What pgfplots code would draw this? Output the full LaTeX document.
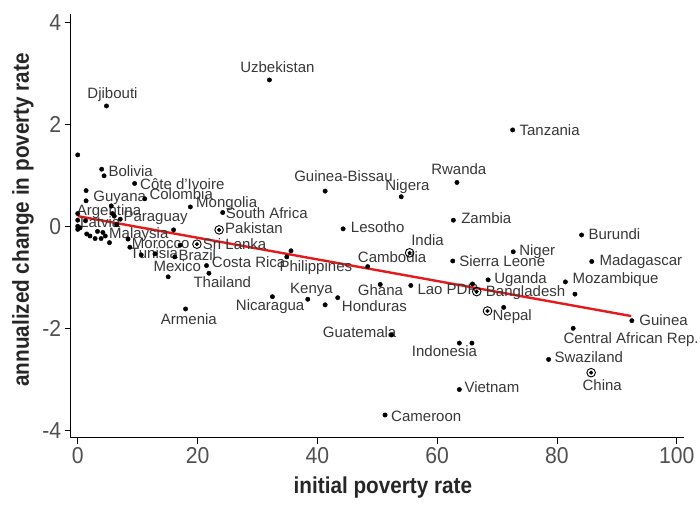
\documentclass[border=0pt]{standalone}
\usepackage{fontspec}
\setmainfont{Liberation Sans}
\newfontfamily\condfont{Liberation Sans}[FakeStretch=0.92]
\newfontfamily\titlefont{Liberation Sans}[FakeStretch=0.9]
\usepackage{pgfplots}
\pgfplotsset{compat=1.18}
\definecolor{fitred}{RGB}{228,26,28}
\definecolor{lblgray}{RGB}{55,55,55}
\definecolor{tickgray}{RGB}{80,80,80}
\tikzset{lbl/.style={font=\fontsize{15}{15}\selectfont, text=lblgray, inner sep=0pt, anchor=base west}}

\begin{document}
\begin{tikzpicture}
\begin{axis}[
  at={(70.7pt,66.3pt)}, anchor=south west,
  scale only axis, width=613.3pt, height=423.7pt,
  xmin=-1.17, xmax=101.2, ymin=-4.145, ymax=4.163,
  axis lines=left, axis line style={-, line width=1.4pt},
  xtick={0,20,40,60,80,100}, ytick={-4,-2,0,2,4},
  tick align=outside, major tick length=6pt,
  tick style={line width=1pt, black},
  /pgf/number format/assume math mode=true,
  ticklabel style={font=\condfont\fontsize{23}{23}\selectfont, text=tickgray},
  xlabel={initial poverty rate},
  ylabel={annualized change in poverty rate},
  label style={font=\titlefont\bfseries\fontsize{23}{23}\selectfont, text=black!85},
  xlabel style={at={(axis description cs:0.509,-0.117)}, anchor=center},
  ylabel style={at={(axis description cs:-0.0778,0.514)}, anchor=center},
  clip=false,
]
% regression line
\addplot[fitred, line width=2.4pt] coordinates {(0,0.20) (92.4,-1.76)};
% countries
\addplot[only marks, mark=*, mark size=2.2pt, black] coordinates {
(0,1.40) (32.0,2.87) (4.8,2.36) (72.6,1.89) (4.0,1.12) (4.4,0.99)
(9.5,0.84) (1.4,0.70) (1.4,0.50) (11.2,0.54) (18.8,0.38) (24.2,0.27)
(0,0.25) (5.6,0.40) (5.8,0.25) (6.1,0.20) (7.1,0.14) (6.5,0.03)
(0,0.12) (0,0.0) (1.3,0.11) (0.4,-0.03) (0,-0.06)
(1.5,-0.15) (2.05,-0.19) (2.9,-0.24) (3.3,-0.10) (3.9,-0.24) (4.2,-0.12) (4.6,-0.19) (5.3,-0.32)
(8.4,-0.25) (16.0,-0.07) (8.7,-0.41) (17.1,-0.37) (10.6,-0.56) (12.9,-0.54)
(16.2,-0.60) (15.1,-0.99) (21.5,-0.77) (21.9,-0.92) (18.0,-1.62) (32.5,-1.38)
(38.4,-1.43) (35.6,-0.48) (34.9,-0.60) (41.3,0.69) (54.0,0.58) (63.3,0.86)
(62.7,0.12) (44.3,-0.05) (48.4,-0.79) (62.6,-0.68) (50.5,-1.14) (55.6,-1.16)
(41.3,-1.54) (43.4,-1.40) (52.4,-2.13) (63.7,-2.29) (65.8,-2.29)
(84.1,-0.17) (72.7,-0.50) (85.8,-0.69) (68.5,-1.05) (81.4,-1.09) (83.0,-1.33)
(65.9,-1.13) (71.1,-1.59) (92.5,-1.85) (82.7,-2.00) (78.6,-2.61) (63.7,-3.20)
(51.3,-3.70)
};
% large countries (ringed)
\addplot[only marks, mark=*, mark size=1.8pt, black] coordinates {
(23.6,-0.07) (19.9,-0.35) (55.4,-0.52) (66.6,-1.28) (68.4,-1.66) (85.7,-2.87)};
\addplot[only marks, mark=o, mark size=4.3pt, black, mark options={line width=0.9pt}] coordinates {
(23.6,-0.07) (19.9,-0.35) (55.4,-0.52) (66.6,-1.28) (68.4,-1.66) (85.7,-2.87)};

\node[lbl] at (axis cs:27.10,3.01) {Uzbekistan};
\node[lbl] at (axis cs:1.60,2.51) {Djibouti};
\node[lbl] at (axis cs:73.72,1.78) {Tanzania};
\node[lbl] at (axis cs:5.11,0.97) {Bolivia};
\node[lbl] at (axis cs:10.40,0.73) {Côte d’Ivoire};
\node[lbl] at (axis cs:2.60,0.48) {Guyana};
\node[lbl] at (axis cs:11.95,0.52) {Colombia};
\node[lbl] at (axis cs:19.75,0.37) {Mongolia};
\node[lbl] at (axis cs:-0.17,0.22) {Argentina};
\node[lbl] at (axis cs:7.61,0.09) {Paraguay};
\node[lbl] at (axis cs:24.71,0.16) {South Africa};
\node[lbl] at (axis cs:0.38,-0.03) {Latvia};
\node[lbl] at (axis cs:5.23,-0.24) {Malaysia};
\node[lbl] at (axis cs:24.59,-0.15) {Pakistan};
\node[lbl] at (axis cs:9.02,-0.43) {Morocco};
\node[lbl] at (axis cs:20.87,-0.45) {Sri Lanka};
\node[lbl] at (axis cs:8.73,-0.63) {Tunisia};
\node[lbl] at (axis cs:16.79,-0.68) {Brazil};
\node[lbl] at (axis cs:22.37,-0.80) {Costa Rica};
\node[lbl] at (axis cs:12.62,-0.89) {Mexico};
\node[lbl] at (axis cs:19.30,-1.20) {Thailand};
\node[lbl] at (axis cs:33.66,-0.89) {Philippines};
\node[lbl] at (axis cs:26.38,-1.66) {Nicaragua};
\node[lbl] at (axis cs:13.86,-1.92) {Armenia};
\node[lbl] at (axis cs:35.44,-1.31) {Kenya};
\node[lbl] at (axis cs:36.11,0.87) {Guinea-Bissau};
\node[lbl] at (axis cs:51.30,0.71) {Nigera};
\node[lbl] at (axis cs:58.98,1.01) {Rwanda};
\node[lbl] at (axis cs:45.58,-0.13) {Lesotho};
\node[lbl] at (axis cs:55.64,-0.37) {India};
\node[lbl] at (axis cs:46.74,-0.71) {Cambodia};
\node[lbl] at (axis cs:46.74,-1.36) {Ghana};
\node[lbl] at (axis cs:56.69,-1.33) {Lao PDR};
\node[lbl] at (axis cs:44.07,-1.67) {Honduras};
\node[lbl] at (axis cs:40.90,-2.18) {Guatemala};
\node[lbl] at (axis cs:63.99,0.05) {Zambia};
\node[lbl] at (axis cs:85.24,-0.25) {Burundi};
\node[lbl] at (axis cs:73.67,-0.58) {Niger};
\node[lbl] at (axis cs:63.66,-0.79) {Sierra Leone};
\node[lbl] at (axis cs:87.08,-0.77) {Madagascar};
\node[lbl] at (axis cs:69.50,-1.12) {Uganda};
\node[lbl] at (axis cs:82.57,-1.12) {Mozambique};
\node[lbl] at (axis cs:68.11,-1.37) {Bangladesh};
\node[lbl] at (axis cs:69.22,-1.85) {Nepal};
\node[lbl] at (axis cs:93.71,-1.95) {Guinea};
\node[lbl] at (axis cs:81.07,-2.29) {Central African Rep.};
\node[lbl] at (axis cs:55.76,-2.56) {Indonesia};
\node[lbl] at (axis cs:79.57,-2.68) {Swaziland};
\node[lbl] at (axis cs:84.24,-3.21) {China};
\node[lbl] at (axis cs:64.54,-3.26) {Vietnam};
\node[lbl] at (axis cs:52.30,-3.83) {Cameroon};
\end{axis}
\pgfresetboundingbox
\path (0,0) rectangle (700pt,504pt);
\end{tikzpicture}
\end{document}
